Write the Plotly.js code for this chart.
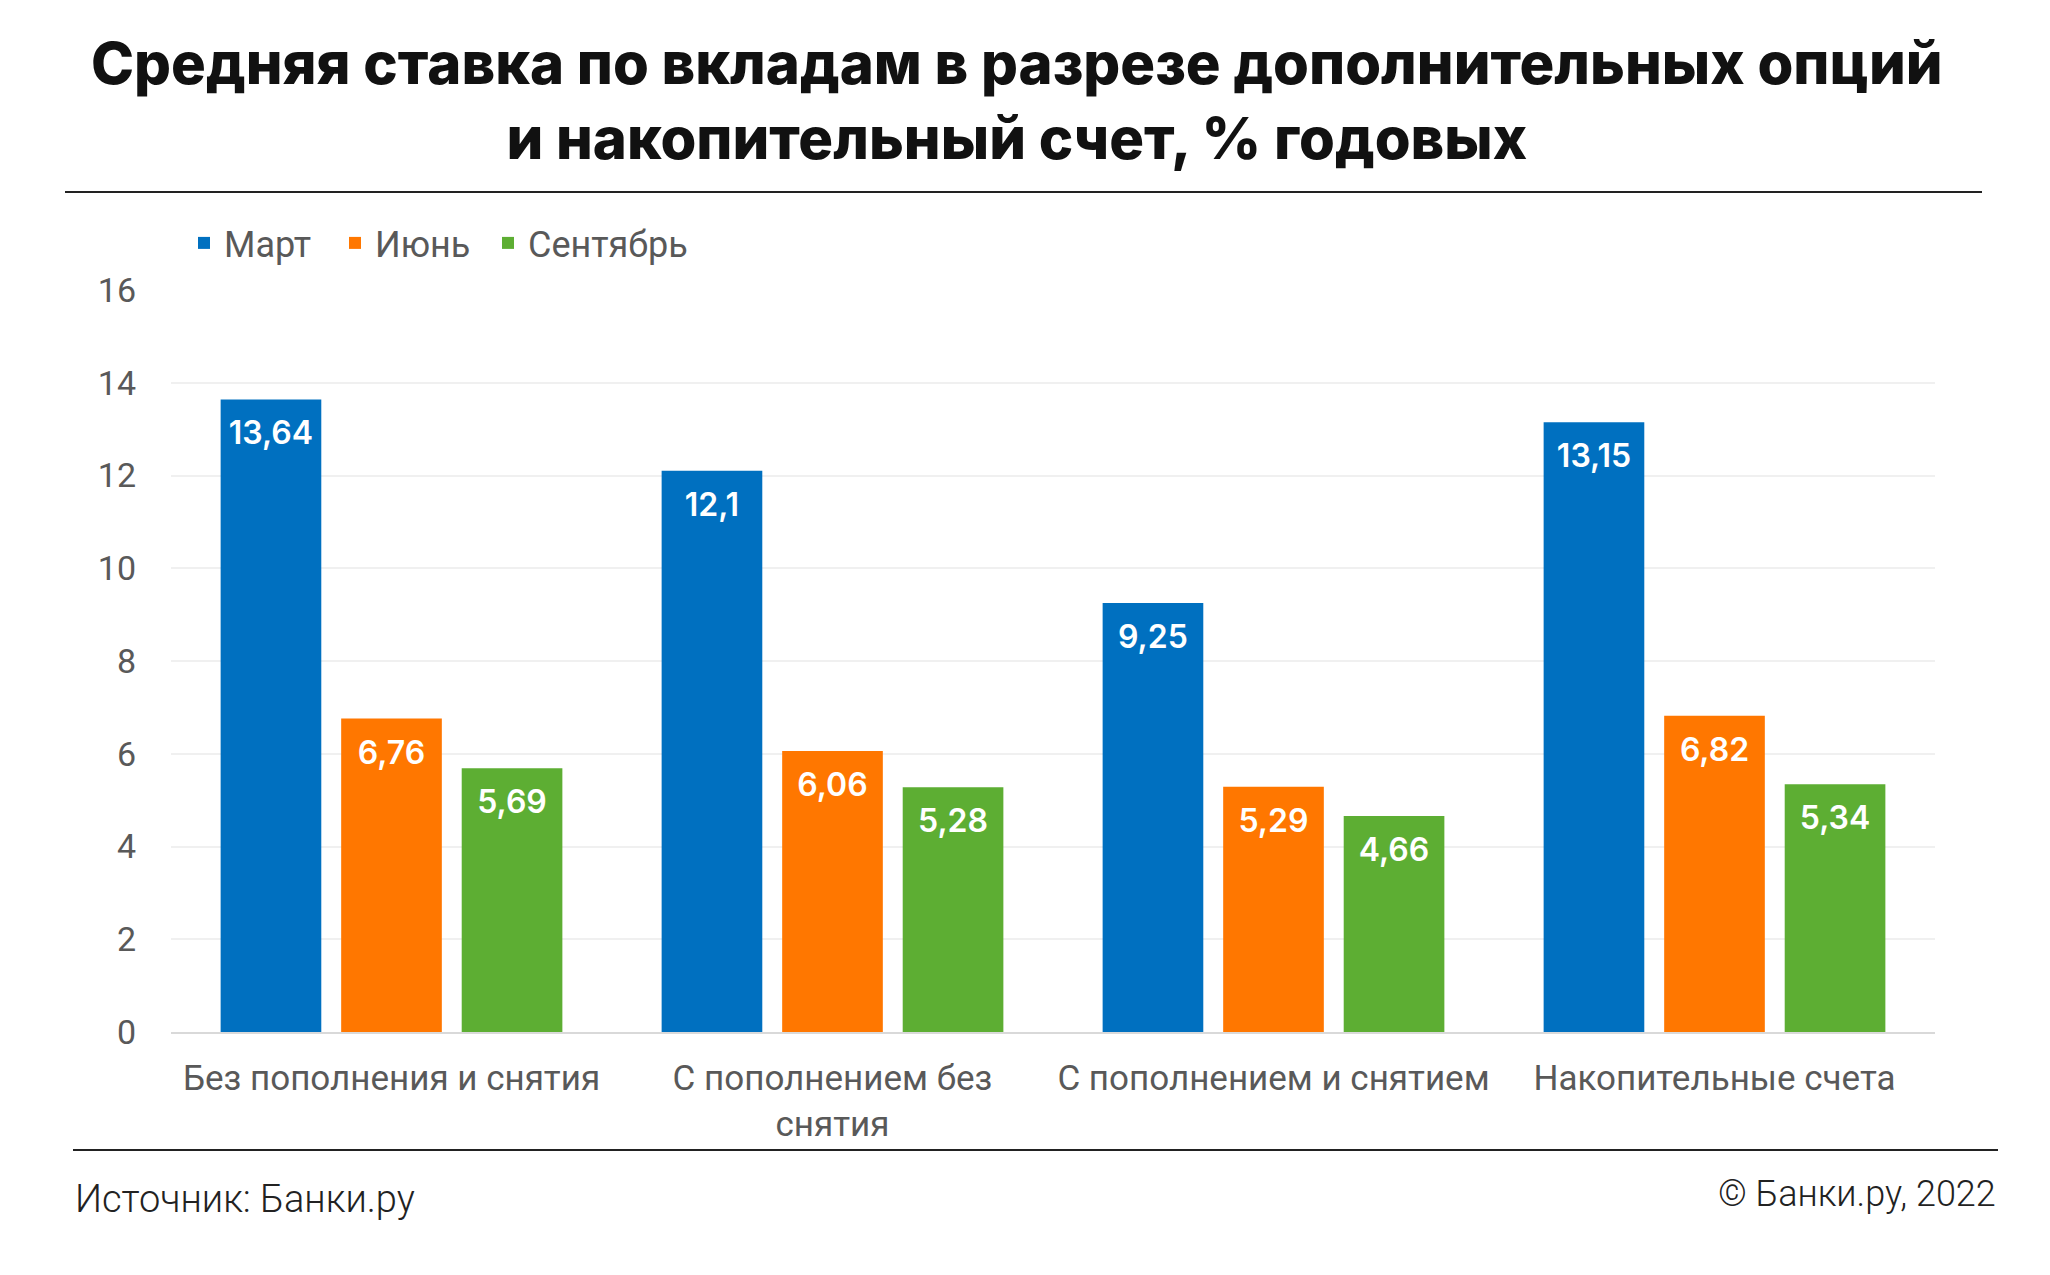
<!DOCTYPE html>
<html>
<head>
<meta charset="utf-8">
<script src="https://cdn.plot.ly/plotly-3.0.1.min.js"></script>
<style>html,body{margin:0;padding:0;background:#fff;}#chart{width:2050px;height:1275px;}</style>
</head>
<body>
<div id="chart"></div>
<script>
const categories = ["Без пополнения и снятия", "С пополнением без<br>снятия", "С пополнением и снятием", "Накопительные счета"];
const seriesNames = ["Март", "Июнь", "Сентябрь"];
const march = [13.64, 12.1, 9.25, 13.15];
const june = [6.76, 6.06, 5.29, 6.82];
const september = [5.69, 5.28, 4.66, 5.34];
const yTicks = [0, 2, 4, 6, 8, 10, 12, 14, 16];
const colors = ["#0070C0", "#FF7700", "#5DAE33"];
const seriesValues = [march, june, september];

const W = 2050, H = 1275;
const L = 171, R = 115, T = 290, B = 243;
const pw = W - L - R, ph = H - T - B;
const px = x => (x - L) / pw;
const py = y => (H - B - y) / ph;

const legendIds = ['legend', 'legend2', 'legend3'];
const legendX = [184, 335, 488];

const barTraces = seriesValues.map((vals, i) => ({
  type: 'bar',
  name: seriesNames[i],
  legend: legendIds[i],
  offsetgroup: 'g' + i,
  x: categories,
  y: vals,
  marker: {color: colors[i]},
  hoverinfo: 'skip'
}));

const labelTraces = seriesValues.map((vals, i) => ({
  type: 'scatter',
  mode: 'markers+text',
  showlegend: false,
  offsetgroup: 'g' + i,
  x: categories,
  y: vals,
  text: vals.map(v => String(v).replace('.', ',')),
  textposition: 'bottom center',
  marker: {size: 32, opacity: 0, color: colors[i]},
  textfont: {family: 'Inter, Roboto, sans-serif', size: 32, color: '#ffffff', weight: 600},
  hoverinfo: 'skip',
  cliponaxis: false
}));

function legendCfg(i) {
  return {
    orientation: 'h',
    x: px(legendX[i]), xanchor: 'left',
    y: py(243), yanchor: 'middle',
    font: {family: 'Roboto, sans-serif', size: 36, color: '#595959'},
    bgcolor: 'rgba(0,0,0,0)'
  };
}

const layout = {
  width: W, height: H,
  margin: {l: L, r: R, t: T, b: B},
  paper_bgcolor: '#ffffff',
  plot_bgcolor: '#ffffff',
  separators: ', ',
  barmode: 'group',
  bargap: 0.18,
  bargroupgap: 0.165,
  scattermode: 'group',
  scattergap: 0.18,
  showlegend: true,
  font: {family: 'Roboto, sans-serif', color: '#595959'},
  title: {
    text: 'Средняя ставка по вкладам в разрезе дополнительных опций<br>и накопительный счет, % годовых',
    font: {family: 'Inter, sans-serif', size: 58, color: '#111111', weight: 800},
    x: 0.496, xref: 'container', xanchor: 'center',
    y: 1 - 84 / H, yref: 'container', yanchor: 'middle'
  },
  legend: legendCfg(0),
  legend2: legendCfg(1),
  legend3: legendCfg(2),
  xaxis: {
    type: 'category',
    tickfont: {family: 'Roboto, sans-serif', size: 35, color: '#595959'},
    showgrid: false,
    showline: true,
    linecolor: '#d9d9d9',
    linewidth: 2,
    ticks: '',
    ticklabelstandoff: 14,
    fixedrange: true
  },
  yaxis: {
    range: [0, 16],
    tickvals: yTicks,
    ticktext: yTicks.map(String),
    tickfont: {family: 'Roboto, sans-serif', size: 34, color: '#595959'},
    showgrid: true,
    gridcolor: '#f0f0f0',
    gridwidth: 2,
    zeroline: false,
    showline: false,
    ticks: '',
    ticklabelstandoff: 34,
    fixedrange: true
  },
  shapes: [
    {type: 'line', xref: 'paper', yref: 'paper', x0: px(65), x1: px(1982), y0: py(192), y1: py(192), line: {color: '#222222', width: 2}},
    {type: 'line', xref: 'paper', yref: 'paper', x0: px(73), x1: px(1998), y0: py(1150), y1: py(1150), line: {color: '#222222', width: 2}}
  ],
  annotations: [
    {text: 'Источник: Банки.ру', xref: 'paper', yref: 'paper', x: px(73), y: py(1199), xanchor: 'left', yanchor: 'middle', showarrow: false,
     font: {family: 'Roboto, sans-serif', size: 38, color: '#222222', weight: 300}},
    {text: '© Банки.ру, 2022', xref: 'paper', yref: 'paper', x: px(1998), y: py(1194), xanchor: 'right', yanchor: 'middle', showarrow: false,
     font: {family: 'Roboto, sans-serif', size: 36, color: '#222222', weight: 300}}
  ]
};

Plotly.newPlot('chart', barTraces.concat(labelTraces), layout, {displayModeBar: false, staticPlot: true});
</script>
</body>
</html>
